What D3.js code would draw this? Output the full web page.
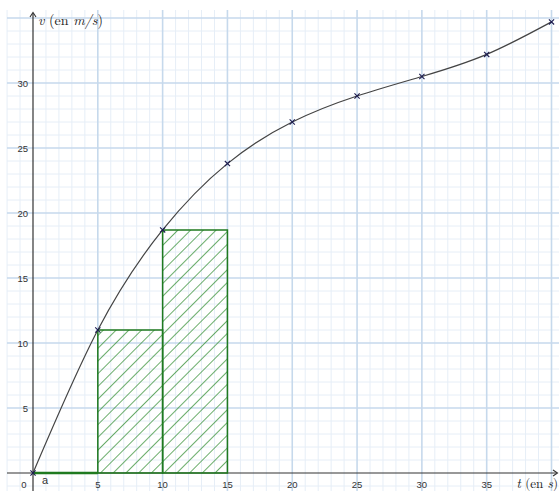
<!DOCTYPE html>
<html>
<head>
<meta charset="utf-8">
<script src="https://cdn.jsdelivr.net/npm/d3@7"></script>
<style>
  html, body { margin: 0; padding: 0; background: #fff; }
  svg { display: block; }
</style>
</head>
<body>
<svg id="chart" width="559" height="491"></svg>
<script>
// Measured speed v (m/s) against time t (s)
const times = [0, 5, 10, 15, 20, 25, 30, 35, 40];
const speeds = [0, 11, 18.7, 23.8, 27, 29, 30.5, 32.2, 34.7];
// Left-endpoint rectangles on [0,5], [5,10], [10,15]
const rectStarts = [0, 5, 10];
const rectWidth = 5;
const xTicks = [5, 10, 15, 20, 25, 30, 35];
const yTicks = [5, 10, 15, 20, 25, 30];

const W = 559, H = 491;
const svg = d3.select("#chart");

const x = d3.scaleLinear().domain([0, 40]).range([33, 551.5]);
const y = d3.scaleLinear().domain([0, 35]).range([473, 18]);

// Grid: minor every unit, major every 5
const grid = svg.append("g");
const vLines = d3.range(-2, 42);
const hLines = d3.range(-1, 36);
grid.selectAll(".vminor").data(vLines.filter(d => d % 5 !== 0)).join("line")
  .attr("x1", d => x(d)).attr("x2", d => x(d))
  .attr("y1", 10).attr("y2", H)
  .attr("stroke", "#e6eef7").attr("stroke-width", 1);
grid.selectAll(".hminor").data(hLines.filter(d => d % 5 !== 0)).join("line")
  .attr("x1", 7).attr("x2", W)
  .attr("y1", d => y(d)).attr("y2", d => y(d))
  .attr("stroke", "#e6eef7").attr("stroke-width", 1);
grid.selectAll(".vmajor").data(vLines.filter(d => d % 5 === 0 && d !== 0)).join("line")
  .attr("x1", d => x(d)).attr("x2", d => x(d))
  .attr("y1", 10).attr("y2", H)
  .attr("stroke", "#c6d9ec").attr("stroke-width", 1.6);
grid.selectAll(".hmajor").data(hLines.filter(d => d % 5 === 0 && d !== 0)).join("line")
  .attr("x1", 7).attr("x2", W)
  .attr("y1", d => y(d)).attr("y2", d => y(d))
  .attr("stroke", "#c6d9ec").attr("stroke-width", 1.6);

// Axes
const axes = svg.append("g").attr("stroke", "#333").attr("fill", "none");
axes.append("line").attr("x1", 7).attr("x2", W - 2)
  .attr("y1", y(0)).attr("y2", y(0)).attr("stroke-width", 1.2);
axes.append("path")
  .attr("d", `M${W - 6},${y(0) - 3} L${W - 1.5},${y(0)} L${W - 6},${y(0) + 3}`)
  .attr("stroke-width", 1.1);
axes.append("line").attr("x1", x(0)).attr("x2", x(0))
  .attr("y1", H).attr("y2", 13).attr("stroke-width", 1.2);
axes.append("path")
  .attr("d", `M${x(0) - 3},${17} L${x(0)},${12.5} L${x(0) + 3},${17}`)
  .attr("stroke-width", 1.1);

// Hatch pattern for the rectangles
const defs = svg.append("defs");
const pat = defs.append("pattern")
  .attr("id", "hatch")
  .attr("patternUnits", "userSpaceOnUse")
  .attr("width", 9).attr("height", 9)
  .attr("patternTransform", "rotate(45)");
pat.append("line")
  .attr("x1", 0).attr("y1", 0).attr("x2", 0).attr("y2", 9)
  .attr("stroke", "#2a892a").attr("stroke-width", 1.4);

const lookup = new Map(times.map((t, i) => [t, speeds[i]]));
const rects = rectStarts.map(t => ({ t, v: lookup.get(t) }));

// Rectangles as closed paths so the zero-height one still shows its outline
svg.append("g").selectAll("path").data(rects).join("path")
  .attr("d", d => {
    const x0 = x(d.t), x1 = x(d.t + rectWidth), y0 = y(0), y1 = y(d.v);
    return `M${x0},${y0}L${x0},${y1}L${x1},${y1}L${x1},${y0}Z`;
  })
  .attr("fill", "url(#hatch)")
  .attr("stroke", "#1f7a1f")
  .attr("stroke-width", d => d.v === 0 ? 2.4 : 1.5);

// Tick labels
const lab = svg.append("g")
  .attr("font-family", "'Liberation Sans', Arial, sans-serif")
  .attr("font-size", 9.5).attr("fill", "#333");
lab.selectAll(".xt").data(xTicks).join("text")
  .attr("x", d => x(d)).attr("y", y(0) + 15)
  .attr("text-anchor", "middle").text(d => d);
lab.selectAll(".yt").data(yTicks).join("text")
  .attr("x", x(0) - 5).attr("y", d => y(d) + 3.5)
  .attr("text-anchor", "end").text(d => d);
lab.append("text").attr("x", 24).attr("y", y(0) + 15)
  .attr("text-anchor", "middle").text("0");
lab.append("text").attr("x", 45).attr("y", y(0) + 11)
  .attr("font-size", 11).attr("text-anchor", "middle").text("a");

// Speed curve
const pts = times.map((t, i) => [t, speeds[i]]);
const line = d3.line().x(d => x(d[0])).y(d => y(d[1])).curve(d3.curveNatural);
svg.append("path").datum(pts)
  .attr("d", line)
  .attr("fill", "none").attr("stroke", "#444").attr("stroke-width", 1.2);

// Point markers
const s = 2.6;
svg.append("g").selectAll("path").data(pts).join("path")
  .attr("d", d => {
    const cx = x(d[0]), cy = y(d[1]);
    return `M${cx - s},${cy - s}L${cx + s},${cy + s}M${cx - s},${cy + s}L${cx + s},${cy - s}`;
  })
  .attr("stroke", "#1c1c50").attr("stroke-width", 1.1).attr("fill", "none");

// Axis titles
const serif = "'Latin Modern Roman', 'DejaVu Serif', 'Liberation Serif', serif";
const vt = svg.append("text").attr("x", 38).attr("y", 25)
  .attr("font-family", serif).attr("font-size", 14).attr("fill", "#222");
vt.append("tspan").attr("font-style", "italic").text("v");
vt.append("tspan").text(" (en ");
vt.append("tspan").attr("font-style", "italic").text("m/s");
vt.append("tspan").text(")");

const tt = svg.append("text").attr("x", W - 1).attr("y", 487.5)
  .attr("text-anchor", "end")
  .attr("font-family", serif).attr("font-size", 13).attr("fill", "#222");
tt.append("tspan").attr("font-style", "italic").text("t");
tt.append("tspan").text(" (en ");
tt.append("tspan").attr("font-style", "italic").text("s");
tt.append("tspan").text(")");
</script>
</body>
</html>
